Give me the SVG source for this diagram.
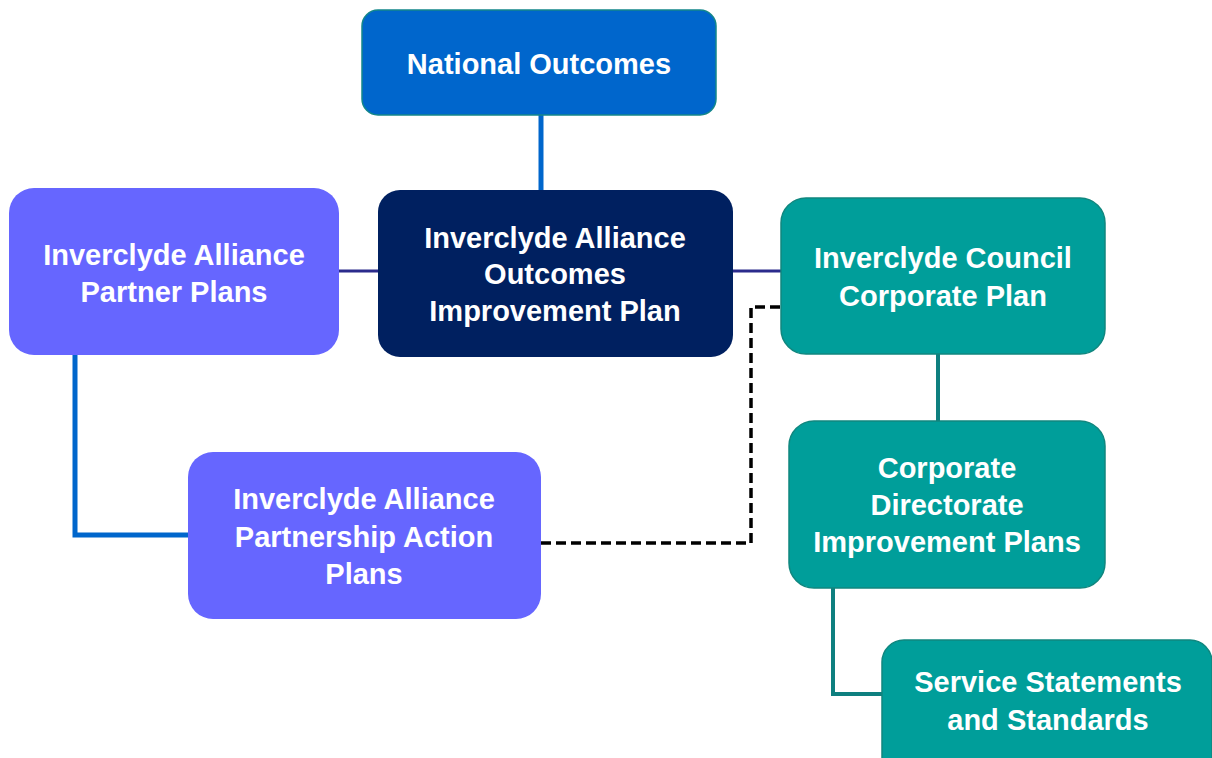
<svg xmlns="http://www.w3.org/2000/svg" width="1212" height="758" viewBox="0 0 1212 758">
<style>
.t{font-family:"Liberation Sans",Arial,sans-serif;font-weight:bold;font-size:29px;fill:#fff;text-anchor:middle}
.teal{fill:#009E9A;stroke:#10877F;stroke-width:1.5}
.purple{fill:#6666FF}
.c{fill:none}
</style>
<rect width="1212" height="758" fill="#fff"/>
<g id="connectors" class="c">
<line x1="541" y1="115" x2="541" y2="191" stroke="#0066CC" stroke-width="5"/>
<line x1="339" y1="271" x2="379" y2="271" stroke="#2B2B8C" stroke-width="3"/>
<line x1="732" y1="271" x2="782" y2="271" stroke="#2B2B8C" stroke-width="3"/>
<polyline points="75,355 75,535 189,535" stroke="#0066CC" stroke-width="5"/>
<polyline points="541,543 751,543 751,307 782,307" stroke="#000" stroke-width="3.5" stroke-dasharray="10,5"/>
<line x1="938" y1="354" x2="938" y2="422" stroke="#0E7F7F" stroke-width="4"/>
<polyline points="833,588 833,694 883,694" stroke="#0E7F7F" stroke-width="4"/>
</g>
<g id="national">
<rect x="362" y="10" width="354" height="105" rx="16" fill="#0066CC" stroke="#13878A" stroke-width="1.5"/>
<text class="t" x="539" y="74">National Outcomes</text>
</g>
<g id="center">
<rect x="378" y="190" width="355" height="167" rx="22" fill="#002060"/>
<text class="t" x="555" y="248">Inverclyde Alliance</text>
<text class="t" x="555" y="284">Outcomes</text>
<text class="t" x="555" y="321">Improvement Plan</text>
</g>
<g id="partner">
<rect class="purple" x="9" y="188" width="330" height="167" rx="25"/>
<text class="t" x="174" y="265">Inverclyde Alliance</text>
<text class="t" x="174" y="302">Partner Plans</text>
</g>
<g id="corporate">
<rect class="teal" x="781" y="198" width="324" height="156" rx="25"/>
<text class="t" x="943" y="268">Inverclyde Council</text>
<text class="t" x="943" y="306">Corporate Plan</text>
</g>
<g id="action">
<rect class="purple" x="188" y="452" width="353" height="167" rx="25"/>
<text class="t" x="364" y="509">Inverclyde Alliance</text>
<text class="t" x="364" y="547">Partnership Action</text>
<text class="t" x="364" y="584">Plans</text>
</g>
<g id="directorate">
<rect class="teal" x="789" y="421" width="316" height="167" rx="25"/>
<text class="t" x="947" y="478">Corporate</text>
<text class="t" x="947" y="515">Directorate</text>
<text class="t" x="947" y="552">Improvement Plans</text>
</g>
<g id="service">
<rect class="teal" x="882" y="640" width="330" height="140" rx="22"/>
<text class="t" x="1048" y="692">Service Statements</text>
<text class="t" x="1048" y="730">and Standards</text>
</g>
</svg>
